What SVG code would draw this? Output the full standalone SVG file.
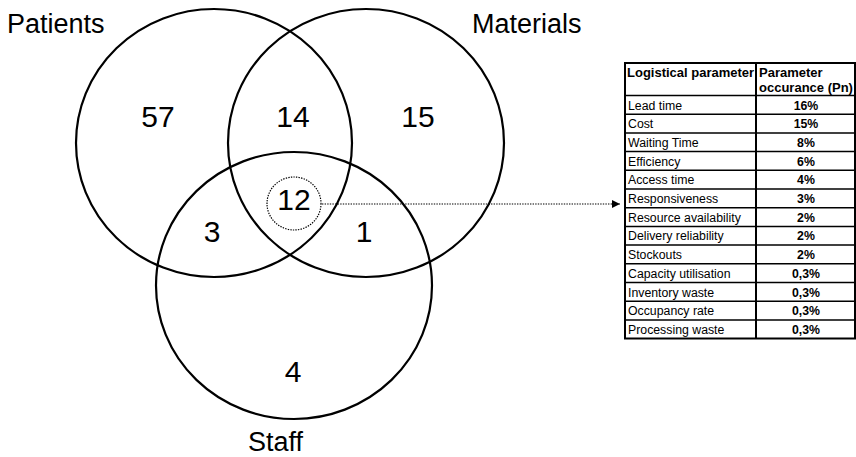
<svg xmlns="http://www.w3.org/2000/svg" width="856" height="457" viewBox="0 0 856 457">
  <style>
    .set { fill: none; stroke: #000; stroke-width: 2.2; }
    .dot { fill: none; stroke: #000; stroke-width: 1.2; stroke-dasharray: 1.4 1.2; }
    .title { font-family: "Liberation Sans", Arial, sans-serif; font-size: 27px; fill: #000; }
    .count { font-family: "Liberation Sans", Arial, sans-serif; font-size: 30px; fill: #000; text-anchor: middle; }
    .cell { font-family: "Liberation Sans", Arial, sans-serif; font-size: 12.3px; fill: #000; }
    .val { font-family: "Liberation Sans", Arial, sans-serif; font-size: 12.3px; font-weight: bold; fill: #000; text-anchor: middle; }
    .head { font-family: "Liberation Sans", Arial, sans-serif; font-size: 13px; font-weight: bold; fill: #000; }
    .grid { stroke: #000; stroke-width: 1.5; fill: none; }
    .frame { stroke: #000; stroke-width: 2; fill: none; }
  </style>
  <defs>
    <marker id="arrowhead" viewBox="0 0 10 10" refX="10" refY="5" markerWidth="8" markerHeight="8" markerUnits="userSpaceOnUse" orient="auto">
      <path d="M0,0 L10,5 L0,10 Z" fill="#000"/>
    </marker>
  </defs>
  <rect width="856" height="457" fill="#fff"/>

  <!-- Venn sets -->
  <g id="patients">
    <ellipse class="set" cx="214" cy="143" rx="138" ry="134"/>
    <text class="title" x="7" y="33">Patients</text>
  </g>
  <g id="materials">
    <ellipse class="set" cx="366" cy="143" rx="138" ry="134"/>
    <text class="title" x="472" y="33">Materials</text>
  </g>
  <g id="staff">
    <ellipse class="set" cx="294" cy="285.5" rx="138" ry="133.5"/>
    <text class="title" x="248" y="451">Staff</text>
  </g>

  <!-- Region counts -->
  <g id="counts">
    <text class="count" x="158" y="127">57</text>
    <text class="count" x="293" y="127">14</text>
    <text class="count" x="418" y="127">15</text>
    <text class="count" x="212" y="242">3</text>
    <text class="count" x="364" y="242">1</text>
    <text class="count" x="293" y="382">4</text>
  </g>
  <g id="core">
    <ellipse class="dot" cx="294" cy="203.5" rx="27" ry="26.5"/>
    <text class="count" x="294" y="210">12</text>
  </g>

  <!-- Connector -->
  <g id="connectors">
    <line class="dot" x1="322" y1="204" x2="620" y2="204" marker-end="url(#arrowhead)"/>
  </g>

  <!-- Parameter table -->
  <g id="table">
    <rect class="frame" x="625" y="63" width="230" height="275.5"/>
    <g class="grid">
      <line x1="625" y1="95.5" x2="855" y2="95.5"/>
      <line x1="625" y1="114.2" x2="855" y2="114.2"/>
      <line x1="625" y1="132.9" x2="855" y2="132.9"/>
      <line x1="625" y1="151.6" x2="855" y2="151.6"/>
      <line x1="625" y1="170.3" x2="855" y2="170.3"/>
      <line x1="625" y1="189.0" x2="855" y2="189.0"/>
      <line x1="625" y1="207.7" x2="855" y2="207.7"/>
      <line x1="625" y1="226.4" x2="855" y2="226.4"/>
      <line x1="625" y1="245.1" x2="855" y2="245.1"/>
      <line x1="625" y1="263.8" x2="855" y2="263.8"/>
      <line x1="625" y1="282.5" x2="855" y2="282.5"/>
      <line x1="625" y1="301.2" x2="855" y2="301.2"/>
      <line x1="625" y1="319.9" x2="855" y2="319.9"/>
    </g>
    <text class="head" x="627" y="77">Logistical parameter</text>
    <line class="frame" x1="756" y1="63" x2="756" y2="338.5"/>
    <text class="head" x="759" y="76.5">Parameter</text>
    <text class="head" x="759" y="91.5">occurance (Pn)</text>

    <text class="cell" x="628" y="109.5">Lead time</text>
    <text class="val" x="806" y="109.5">16%</text>
    <text class="cell" x="628" y="128.2">Cost</text>
    <text class="val" x="806" y="128.2">15%</text>
    <text class="cell" x="628" y="146.9">Waiting Time</text>
    <text class="val" x="806" y="146.9">8%</text>
    <text class="cell" x="628" y="165.6">Efficiency</text>
    <text class="val" x="806" y="165.6">6%</text>
    <text class="cell" x="628" y="184.3">Access time</text>
    <text class="val" x="806" y="184.3">4%</text>
    <text class="cell" x="628" y="203.0">Responsiveness</text>
    <text class="val" x="806" y="203.0">3%</text>
    <text class="cell" x="628" y="221.7">Resource availability</text>
    <text class="val" x="806" y="221.7">2%</text>
    <text class="cell" x="628" y="240.4">Delivery reliability</text>
    <text class="val" x="806" y="240.4">2%</text>
    <text class="cell" x="628" y="259.1">Stockouts</text>
    <text class="val" x="806" y="259.1">2%</text>
    <text class="cell" x="628" y="277.8">Capacity utilisation</text>
    <text class="val" x="806" y="277.8">0,3%</text>
    <text class="cell" x="628" y="296.5">Inventory waste</text>
    <text class="val" x="806" y="296.5">0,3%</text>
    <text class="cell" x="628" y="315.2">Occupancy rate</text>
    <text class="val" x="806" y="315.2">0,3%</text>
    <text class="cell" x="628" y="333.9">Processing waste</text>
    <text class="val" x="806" y="333.9">0,3%</text>
  </g>
</svg>
